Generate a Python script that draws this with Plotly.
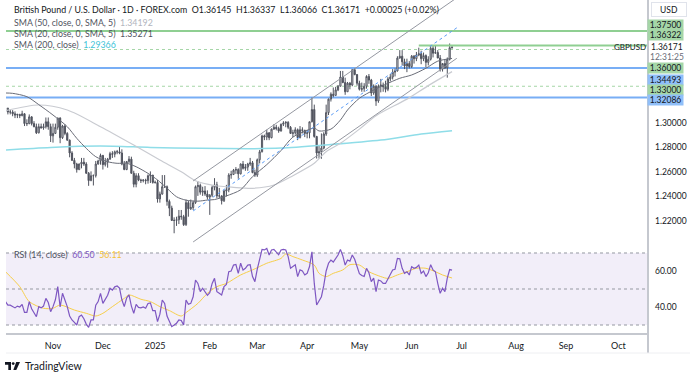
import plotly.graph_objects as go
import pandas as pd

# ----------------------------- data -----------------------------
candle_first_day = "2024-10-04"
candle_last_day = "2025-06-25"

opens = [
    # Oct 2024
    1.3120, 1.3120, 1.3090, 1.3090, 1.3075, 1.3065, 1.3070, 1.3060, 1.3075, 1.2995,
    1.2995, 1.3050, 1.2995, 1.2970, 1.2920, 1.2970, 1.2960, 1.2970, 1.3010, 1.2970,
    # Nov
    1.2895, 1.2915, 1.2965, 1.3040, 1.2880, 1.2975, 1.2915, 1.2860, 1.2755, 1.2695,
    1.2665, 1.2620, 1.2665, 1.2680, 1.2665, 1.2590, 1.2530, 1.2570, 1.2570, 1.2665, 1.2690,
    # Dec
    1.2735, 1.2660, 1.2680, 1.2705, 1.2750, 1.2745, 1.2765, 1.2765, 1.2755, 1.2665,
    1.2620, 1.2685, 1.2705, 1.2590, 1.2500, 1.2570, 1.2535, 1.2530, 1.2535, 1.2530, 1.2570, 1.2575,
    # Jan 2025
    1.2515, 1.2515, 1.2380, 1.2420, 1.2480, 1.2480, 1.2360, 1.2305, 1.2205, 1.2205,
    1.2210, 1.2240, 1.2235, 1.2170, 1.2350, 1.2300, 1.2310, 1.2350, 1.2480, 1.2490,
    1.2435, 1.2445, 1.2420,
    # Feb
    1.2395, 1.2410, 1.2475, 1.2495, 1.2405, 1.2405, 1.2365, 1.2445, 1.2455, 1.2575,
    1.2580, 1.2615, 1.2620, 1.2585, 1.2665, 1.2630, 1.2640, 1.2665, 1.2675, 1.2595,
    # Mar
    1.2575, 1.2700, 1.2765, 1.2895, 1.2885, 1.2920, 1.2880, 1.2950, 1.2965, 1.2955,
    1.2935, 1.2990, 1.3000, 1.3005, 1.2965, 1.2915, 1.2920, 1.2945, 1.2880, 1.2945, 1.2940,
    # Apr
    1.2915, 1.2920, 1.3010, 1.3110, 1.2890, 1.2755, 1.2765, 1.2795, 1.2910, 1.3085,
    1.3195, 1.3235, 1.3225, 1.3270, 1.3300, 1.3375, 1.3330, 1.3255, 1.3325, 1.3310, 1.3435, 1.3395,
    # May
    1.3325, 1.3275, 1.3280, 1.3300, 1.3380, 1.3350, 1.3245, 1.3300, 1.3180, 1.3300,
    1.3310, 1.3295, 1.3275, 1.3360, 1.3375, 1.3415, 1.3425, 1.3530, 1.3545, 1.3500, 1.3465, 1.3485,
    # Jun
    1.3460, 1.3545, 1.3525, 1.3555, 1.3565, 1.3525, 1.3550, 1.3495, 1.3520, 1.3610,
    1.3570, 1.3575, 1.3530, 1.3440, 1.3485, 1.3450, 1.3520, 1.36145,
]
highs = [
    1.3175, 1.3125, 1.3110, 1.3105, 1.3095, 1.3075, 1.3075, 1.3100, 1.3080, 1.3030,
    1.3070, 1.3055, 1.3015, 1.2995, 1.2995, 1.2995, 1.2995, 1.3045, 1.3045, 1.2995,
    1.2995, 1.2995, 1.3045, 1.3047, 1.2985, 1.2990, 1.2925, 1.2865, 1.2770, 1.2715,
    1.2675, 1.2670, 1.2715, 1.2715, 1.2680, 1.2600, 1.2605, 1.2580, 1.2690, 1.2700, 1.2750,
    1.2740, 1.2715, 1.2715, 1.2765, 1.2770, 1.2775, 1.2780, 1.2810, 1.2785, 1.2690,
    1.2690, 1.2730, 1.2725, 1.2610, 1.2590, 1.2590, 1.2545, 1.2540, 1.2545, 1.2580, 1.2605, 1.2575,
    1.2530, 1.2535, 1.2440, 1.2575, 1.2575, 1.2490, 1.2375, 1.2325, 1.2230, 1.2235,
    1.2290, 1.2290, 1.2250, 1.2375, 1.2365, 1.2375, 1.2365, 1.2490, 1.2525, 1.2505,
    1.2480, 1.2485, 1.2450,
    1.2420, 1.2490, 1.2550, 1.2520, 1.2470, 1.2410, 1.2455, 1.2495, 1.2590, 1.2610,
    1.2625, 1.2640, 1.2630, 1.2670, 1.2690, 1.2665, 1.2675, 1.2715, 1.2690, 1.2620,
    1.2710, 1.2780, 1.2905, 1.2905, 1.2945, 1.2925, 1.2955, 1.2990, 1.2985, 1.2970,
    1.2995, 1.3015, 1.3015, 1.3015, 1.2975, 1.2945, 1.2965, 1.2955, 1.2975, 1.2965, 1.2945,
    1.2945, 1.3010, 1.3207, 1.3150, 1.2895, 1.2815, 1.2915, 1.2925, 1.3150, 1.3200,
    1.3250, 1.3290, 1.3295, 1.3310, 1.3425, 1.3425, 1.3370, 1.3335, 1.3335, 1.3440, 1.3445, 1.3400,
    1.3345, 1.3330, 1.3325, 1.3390, 1.3400, 1.3360, 1.3315, 1.3310, 1.3315, 1.3360,
    1.3330, 1.3345, 1.3375, 1.3400, 1.3440, 1.3445, 1.3545, 1.3595, 1.3595, 1.3525, 1.3525, 1.3505,
    1.3555, 1.3555, 1.3580, 1.3615, 1.3590, 1.3575, 1.3560, 1.3545, 1.3630, 1.3630,
    1.3630, 1.3595, 1.3555, 1.3480, 1.3520, 1.3535, 1.3649, 1.36337,
]
lows = [
    1.3070, 1.3070, 1.3070, 1.3055, 1.3040, 1.3040, 1.3040, 1.3055, 1.2975, 1.2975,
    1.2990, 1.2980, 1.2965, 1.2910, 1.2915, 1.2955, 1.2945, 1.2955, 1.2945, 1.2845,
    1.2840, 1.2910, 1.2945, 1.2835, 1.2870, 1.2900, 1.2855, 1.2720, 1.2690, 1.2630,
    1.2595, 1.2615, 1.2630, 1.2650, 1.2585, 1.2487, 1.2525, 1.2490, 1.2555, 1.2660, 1.2660,
    1.2620, 1.2645, 1.2635, 1.2700, 1.2715, 1.2720, 1.2745, 1.2745, 1.2655, 1.2615,
    1.2615, 1.2670, 1.2585, 1.2475, 1.2475, 1.2525, 1.2510, 1.2515, 1.2500, 1.2505, 1.2510, 1.2505,
    1.2505, 1.2350, 1.2350, 1.2415, 1.2470, 1.2325, 1.2240, 1.2200, 1.2100, 1.2160,
    1.2175, 1.2210, 1.2160, 1.2160, 1.2235, 1.2290, 1.2290, 1.2340, 1.2405, 1.2415,
    1.2405, 1.2405, 1.2375,
    1.2250, 1.2395, 1.2450, 1.2385, 1.2385, 1.2335, 1.2355, 1.2400, 1.2435, 1.2545,
    1.2575, 1.2585, 1.2545, 1.2580, 1.2620, 1.2610, 1.2610, 1.2650, 1.2590, 1.2560,
    1.2560, 1.2670, 1.2760, 1.2860, 1.2860, 1.2860, 1.2875, 1.2945, 1.2940, 1.2920,
    1.2930, 1.2975, 1.2965, 1.2950, 1.2910, 1.2885, 1.2905, 1.2860, 1.2875, 1.2915, 1.2885,
    1.2875, 1.2875, 1.3005, 1.2880, 1.2710, 1.2710, 1.2708, 1.2785, 1.2895, 1.3065,
    1.3175, 1.3210, 1.3225, 1.3260, 1.3300, 1.3325, 1.3230, 1.3255, 1.3275, 1.3300, 1.3390, 1.3305,
    1.3265, 1.3255, 1.3255, 1.3280, 1.3320, 1.3220, 1.3230, 1.3140, 1.3165, 1.3250,
    1.3255, 1.3250, 1.3260, 1.3340, 1.3355, 1.3380, 1.3420, 1.3525, 1.3470, 1.3440, 1.3415, 1.3445,
    1.3450, 1.3485, 1.3505, 1.3545, 1.3480, 1.3505, 1.3455, 1.3470, 1.3510, 1.3535,
    1.3565, 1.3530, 1.3420, 1.3420, 1.3440, 1.3370, 1.3510, 1.36066,
]
closes = [
    1.3120, 1.3090, 1.3090, 1.3075, 1.3065, 1.3070, 1.3060, 1.3075, 1.2995, 1.2995,
    1.3050, 1.2995, 1.2970, 1.2920, 1.2970, 1.2960, 1.2970, 1.3010, 1.2970, 1.2895,
    1.2915, 1.2965, 1.3040, 1.2880, 1.2975, 1.2915, 1.2860, 1.2755, 1.2695, 1.2665,
    1.2620, 1.2665, 1.2680, 1.2665, 1.2590, 1.2530, 1.2570, 1.2570, 1.2665, 1.2690, 1.2735,
    1.2660, 1.2680, 1.2705, 1.2750, 1.2745, 1.2765, 1.2765, 1.2755, 1.2665, 1.2620,
    1.2685, 1.2705, 1.2590, 1.2500, 1.2570, 1.2535, 1.2530, 1.2535, 1.2530, 1.2570, 1.2575, 1.2515,
    1.2515, 1.2380, 1.2420, 1.2480, 1.2480, 1.2360, 1.2305, 1.2205, 1.2205, 1.2210,
    1.2240, 1.2235, 1.2170, 1.2350, 1.2300, 1.2310, 1.2350, 1.2480, 1.2490, 1.2435,
    1.2445, 1.2420, 1.2395,
    1.2410, 1.2475, 1.2495, 1.2405, 1.2405, 1.2365, 1.2445, 1.2455, 1.2575, 1.2580,
    1.2615, 1.2620, 1.2585, 1.2665, 1.2630, 1.2640, 1.2665, 1.2675, 1.2595, 1.2575,
    1.2700, 1.2765, 1.2895, 1.2885, 1.2920, 1.2880, 1.2950, 1.2965, 1.2955, 1.2935,
    1.2990, 1.3000, 1.3005, 1.2965, 1.2915, 1.2920, 1.2945, 1.2880, 1.2945, 1.2940, 1.2915,
    1.2920, 1.3010, 1.3110, 1.2890, 1.2755, 1.2765, 1.2795, 1.2910, 1.3085, 1.3195,
    1.3235, 1.3225, 1.3270, 1.3300, 1.3375, 1.3330, 1.3255, 1.3325, 1.3310, 1.3435, 1.3395, 1.3325,
    1.3275, 1.3280, 1.3300, 1.3380, 1.3350, 1.3245, 1.3300, 1.3180, 1.3300, 1.3310,
    1.3295, 1.3275, 1.3360, 1.3375, 1.3415, 1.3425, 1.3530, 1.3545, 1.3500, 1.3465, 1.3485, 1.3460,
    1.3545, 1.3525, 1.3555, 1.3565, 1.3525, 1.3550, 1.3495, 1.3520, 1.3610, 1.3570,
    1.3575, 1.3530, 1.3440, 1.3485, 1.3450, 1.3520, 1.36146, 1.36171,
]
rsi_values = [
    43.0, 41.0, 41.0, 40.0, 39.5, 40.5, 40.0, 41.5, 37.0, 37.0, 43.0, 39.0, 37.0, 34.6, 40.2,
    39.5, 40.5, 44.8, 42.5, 37.4,
    40.2, 44.0, 51.3, 40.0, 47.6, 44.0, 40.2, 35.0, 32.8, 31.5, 30.0, 34.6, 35.5, 33.5, 30.5,
    28.7, 32.8, 32.8, 41.0, 43.0, 47.6,
    42.0, 44.0, 46.5, 50.4, 49.4, 51.2, 51.7, 50.5, 44.0, 40.2, 45.0, 46.7, 40.5, 36.5, 41.5,
    39.8, 39.5, 40.0, 39.3, 42.0, 42.3, 38.0,
    38.0, 31.9, 36.0, 43.9, 42.0, 35.0, 31.9, 29.1, 30.0, 31.0, 32.8, 32.5, 30.0, 43.9, 41.5,
    42.0, 45.7, 55.0, 53.1, 48.5, 50.4, 48.5, 46.5,
    48.0, 53.1, 55.9, 48.5, 47.6, 46.7, 51.3, 52.5, 59.6, 60.0, 63.3, 63.6, 58.7, 64.3, 60.5,
    61.5, 63.3, 63.5, 56.9, 54.1,
    61.0, 66.1, 72.0, 71.7, 72.5, 68.9, 71.7, 72.0, 70.5, 69.0, 71.7, 72.0, 71.7, 68.0, 61.5,
    62.4, 63.5, 56.9, 60.6, 60.0, 57.8,
    58.7, 62.5, 70.7, 53.1, 41.1, 43.5, 45.7, 52.0, 60.0, 64.3, 66.1, 65.0, 67.0, 68.9, 72.0,
    68.5, 63.3, 66.1, 65.5, 68.9, 66.5, 62.4,
    58.5, 57.5, 57.0, 61.5, 59.0, 54.1, 56.0, 48.5, 55.0, 54.5, 53.1, 53.1, 55.9, 58.7, 60.6,
    61.0, 67.0, 66.8, 61.5, 58.7, 59.6, 57.8,
    62.4, 61.5, 62.0, 63.3, 58.7, 60.0, 56.9, 59.0, 63.5, 60.6, 59.6, 53.0, 47.6, 50.4, 48.5,
    56.0, 60.8, 60.50,
]
rsi_ma_dates = [
    "2024-10-04", "2024-10-14", "2024-10-18", "2024-10-28", "2024-11-01", "2024-11-06",
    "2024-11-14", "2024-11-21", "2024-11-27", "2024-12-02", "2024-12-06", "2024-12-13",
    "2024-12-17", "2024-12-24", "2024-12-30", "2025-01-03", "2025-01-09", "2025-01-16",
    "2025-01-20", "2025-01-27", "2025-01-31", "2025-02-06", "2025-02-12", "2025-02-20",
    "2025-02-27", "2025-03-07", "2025-03-17", "2025-03-19", "2025-03-24", "2025-03-28",
    "2025-04-04", "2025-04-08", "2025-04-11", "2025-04-16", "2025-04-22", "2025-04-25",
    "2025-05-01", "2025-05-07", "2025-05-14", "2025-05-19", "2025-05-23", "2025-05-29",
    "2025-06-04", "2025-06-10", "2025-06-16", "2025-06-19", "2025-06-25",
]
rsi_ma_values = [
    59.6, 51.3, 43.0, 39.3, 39.3, 41.1, 38.3, 36.5, 35.0, 36.5, 40.2, 44.8, 46.7, 44.3, 43.0,
    40.2, 38.0, 35.0, 36.9, 42.0, 47.6, 51.3, 53.1, 57.8, 60.6, 64.3, 67.0, 69.5, 68.0, 66.1,
    63.3, 58.7, 56.9, 58.7, 60.6, 63.5, 63.3, 59.6, 56.9, 55.9, 57.8, 59.6, 61.5, 61.5, 59.6,
    57.8, 56.11,
]
sma20_dates = [
    "2024-10-04", "2024-10-09", "2024-10-17", "2024-10-24", "2024-11-01", "2024-11-11",
    "2024-11-15", "2024-11-21", "2024-11-27", "2024-12-04", "2024-12-10", "2024-12-16",
    "2024-12-20", "2024-12-27", "2025-01-02", "2025-01-08", "2025-01-14", "2025-01-20",
    "2025-01-27", "2025-01-31", "2025-02-05", "2025-02-12", "2025-02-20", "2025-02-27",
    "2025-03-07", "2025-03-17", "2025-03-24", "2025-04-01", "2025-04-04", "2025-04-08",
    "2025-04-15", "2025-04-21", "2025-04-24", "2025-05-01", "2025-05-09", "2025-05-16",
    "2025-05-26", "2025-06-02", "2025-06-10", "2025-06-17", "2025-06-25",
]
sma20_values = [
    1.3245, 1.3242, 1.3215, 1.3150, 1.3065, 1.2970, 1.2875, 1.2793, 1.2725, 1.2684, 1.2671,
    1.2671, 1.2643, 1.2589, 1.2535, 1.2467, 1.2398, 1.2370, 1.2362, 1.2371, 1.2375, 1.2405,
    1.2455, 1.2562, 1.2660, 1.2775, 1.2885, 1.2940, 1.2959, 1.2935, 1.2950, 1.3024, 1.3106,
    1.3202, 1.3269, 1.3315, 1.3365, 1.3392, 1.3447, 1.3505, 1.35271,
]
sma50_dates = [
    "2024-10-04", "2024-10-24", "2024-11-11", "2024-11-29", "2024-12-19", "2025-01-03",
    "2025-01-16", "2025-01-24", "2025-02-05", "2025-02-17", "2025-02-27", "2025-03-12",
    "2025-03-24", "2025-04-04", "2025-04-11", "2025-04-21", "2025-05-01", "2025-05-12",
    "2025-05-29", "2025-06-11", "2025-06-25",
]
sma50_values = [
    1.3100, 1.3147, 1.3106, 1.2970, 1.2820, 1.2698, 1.2602, 1.2529, 1.2490, 1.2475, 1.2467,
    1.2494, 1.2570, 1.2671, 1.2766, 1.2834, 1.2950, 1.3060, 1.3195, 1.3305, 1.34192,
]
sma200_dates = [
    "2024-10-04", "2024-10-31", "2024-11-29", "2024-12-30", "2025-01-28", "2025-02-26",
    "2025-03-17", "2025-04-10", "2025-05-14", "2025-06-06", "2025-06-25",
]
sma200_values = [
    1.2780, 1.2801, 1.2812, 1.2801, 1.2793, 1.2790, 1.2795, 1.2820, 1.2861, 1.2910, 1.29366,
]
channel_dates = ["2025-01-23", "2025-06-27"]
channel_upper = [1.2527, 1.4022]
channel_mid = [1.2282, 1.3777]
channel_lower = [1.2029, 1.3528]

solid_levels = [1.37500, 1.34493, 1.32086]
solid_level_colors = ["#8fcf92", "#78aef5", "#78aef5"]
dotted_levels = [1.36000, 1.33000]
ray_level = 1.36322
ray_start = "2025-06-05"

axis_labels = ["1.37500", "1.36322", "1.36000", "1.34493", "1.33000", "1.32086"]
axis_label_colors = ["#a5d6a7", "#a5d6a7", "#a5d6a7", "#90bff9", "#a5d6a7", "#90bff9"]

month_tick_dates = ["2024-11-01", "2024-12-02", "2025-01-01", "2025-02-03", "2025-03-03",
                    "2025-04-01", "2025-05-01", "2025-06-02", "2025-07-01", "2025-08-01",
                    "2025-09-01", "2025-10-01"]
month_tick_labels = ["Nov", "Dec", "2025", "Feb", "Mar", "Apr", "May", "Jun", "Jul", "Aug",
                     "Sep", "Oct"]
price_ticks = [1.22, 1.24, 1.26, 1.28, 1.30]
rsi_ticks = [40, 60]
rsi_levels = [70, 50, 30]
rsi_band = [30, 70]

# ----------------------------- geometry helpers -----------------------------
W, H = 700, 379
ML, MR, MT, MB = 6, 52, 0, 46
PW, PH = W - ML - MR, H - MT - MB


def fx(px):
    return (px - ML) / PW


def fy(py):
    return 1 - (py - MT) / PH


FONT = "Lato, 'Open Sans', sans-serif"
TXT = "#131722"

candle_dates = pd.bdate_range(candle_first_day, candle_last_day).strftime("%Y-%m-%d").tolist()
axis_dates = pd.bdate_range("2024-10-03", "2025-10-31").strftime("%Y-%m-%d").tolist()
assert len(candle_dates) == len(closes) == len(opens) == len(highs) == len(lows) == len(rsi_values)

i_nov = axis_dates.index("2024-11-01")

fig = go.Figure()

# horizontal ray
fig.add_trace(go.Scatter(x=[ray_start, axis_dates[-1]], y=[ray_level, ray_level], mode="lines",
                         line=dict(color="#8fcf92", width=2), hoverinfo="skip", showlegend=False))

# moving averages
fig.add_trace(go.Scatter(x=sma200_dates, y=sma200_values, mode="lines",
                         line=dict(color="#8fdde8", width=1.5, shape="spline", smoothing=0.8),
                         hoverinfo="skip", showlegend=False))
fig.add_trace(go.Scatter(x=sma50_dates, y=sma50_values, mode="lines",
                         line=dict(color="#c9cbd1", width=1.2, shape="spline", smoothing=0.8),
                         hoverinfo="skip", showlegend=False))
fig.add_trace(go.Scatter(x=sma20_dates, y=sma20_values, mode="lines",
                         line=dict(color="#6a6d78", width=1, shape="spline", smoothing=0.8),
                         hoverinfo="skip", showlegend=False))

# channel
for vals, col, dash in [(channel_upper, "#9598a1", "solid"), (channel_lower, "#9598a1", "solid"),
                        (channel_mid, "#5b9cf6", "3px,3px")]:
    fig.add_trace(go.Scatter(x=channel_dates, y=vals, mode="lines",
                             line=dict(color=col, width=1, dash=dash),
                             hoverinfo="skip", showlegend=False))

# candles
fig.add_trace(go.Candlestick(
    x=candle_dates, open=opens, high=highs, low=lows, close=closes,
    increasing=dict(line=dict(color="#50535e", width=1), fillcolor="#ffffff"),
    decreasing=dict(line=dict(color="#50535e", width=1), fillcolor="#50535e"),
    whiskerwidth=0, showlegend=False, hoverinfo="skip"))

# RSI
fig.add_trace(go.Scatter(x=rsi_ma_dates, y=rsi_ma_values, yaxis="y2", mode="lines",
                         line=dict(color="#f7cf4a", width=1, shape="spline", smoothing=0.8),
                         hoverinfo="skip", showlegend=False))
fig.add_trace(go.Scatter(x=candle_dates, y=rsi_values, yaxis="y2", mode="lines",
                         line=dict(color="#7e57c2", width=1.2),
                         hoverinfo="skip", showlegend=False))

shapes = []
for lv, col in zip(solid_levels, solid_level_colors):
    shapes.append(dict(type="line", xref="paper", yref="y", x0=0, x1=1, y0=lv, y1=lv,
                       line=dict(color=col, width=2), layer="below"))
for lv in dotted_levels:
    shapes.append(dict(type="line", xref="paper", yref="y", x0=0, x1=1, y0=lv, y1=lv,
                       line=dict(color="#a5d6a7", width=1, dash="3px,3px"), layer="below"))
shapes.append(dict(type="rect", xref="paper", yref="y2", x0=0, x1=1, y0=rsi_band[0], y1=rsi_band[1],
                   fillcolor="rgba(126,87,194,0.10)", line=dict(width=0), layer="below"))
for lv in rsi_levels:
    shapes.append(dict(type="line", xref="paper", yref="y2", x0=0, x1=1, y0=lv, y1=lv,
                       line=dict(color="#9598a1", width=1, dash="3px,3px"), layer="below"))
# right scale border and bottom frame
shapes.append(dict(type="line", xref="paper", yref="paper", x0=1, x1=1, y0=fy(353), y1=1,
                   line=dict(color="#c5c8cf", width=2)))
shapes.append(dict(type="line", xref="paper", yref="paper", x0=0, x1=fx(690), y0=fy(353), y1=fy(353),
                   line=dict(color="#eeeff2", width=1)))


# TradingView logo mark
def path(points):
    return "M " + " L ".join(f"{fx(a):.5f},{fy(b):.5f}" for a, b in points) + " Z"


shapes.append(dict(type="path", xref="paper", yref="paper",
                   path=path([(5, 362), (11, 362), (11, 370), (8.3, 370), (8.3, 364.8), (5, 364.8)]),
                   fillcolor=TXT, line=dict(width=0)))
shapes.append(dict(type="circle", xref="paper", yref="paper", x0=fx(11.8), x1=fx(14.6),
                   y0=fy(365), y1=fy(362.2), fillcolor=TXT, line=dict(width=0)))
shapes.append(dict(type="path", xref="paper", yref="paper",
                   path=path([(16.2, 362), (20, 362), (16.3, 370), (13.3, 370)]),
                   fillcolor=TXT, line=dict(width=0)))

ann = []


def text(x, y, t, size=9, color=TXT, anchor="left", **kw):
    ann.append(dict(x=fx(x), y=fy(y), xref="paper", yref="paper", text=t, showarrow=False,
                    xanchor=anchor, yanchor="middle", font=dict(family=FONT, size=size, color=color),
                    **kw))


chg = closes[-1] - closes[-2]
pct = chg / closes[-2] * 100
text(12, 10, "British Pound / U.S. Dollar · 1D · FOREX.com  "
     f"O{opens[-1]:.5f}  H{highs[-1]:.5f}  L{lows[-1]:.5f}  "
     f"C{closes[-1]:.5f}  {chg:+.5f} ({pct:+.2f}%)", size=8.8)
text(12, 22.5, f"SMA (50, close, 0, SMA, 5)  <span style='color:#b2b5be'>{sma50_values[-1]:.5f}</span>",
     color="#50535e", size=8.8)
text(12, 33.5, f"SMA (20, close, 0, SMA, 5)  <span style='color:#50535e'>{sma20_values[-1]:.5f}</span>",
     color="#50535e", size=8.8)
text(12, 44, f"SMA (200, close)  <span style='color:#40c4d8'>{sma200_values[-1]:.5f}</span>",
     color="#50535e", size=8.8)
text(12, 255, f"RSI (14, close)  <span style='color:#7e57c2'>{rsi_values[-1]:.2f}</span>  "
     f"<span style='color:#f2c12e'>{rsi_ma_values[-1]:.2f}</span>", color="#50535e", size=8.8)

# right-side price labels
label_y = [25, 35, 68, 80, 90, 100]
for lab, col, yy in zip(axis_labels, axis_label_colors, label_y):
    text(666, yy, lab, size=8.5, anchor="center", bgcolor=col, width=35, height=10, borderpad=0)
text(667, 47, f"{closes[-1]:.5f}", size=8.5, anchor="center")
text(667, 57, "12:31:25", size=8.5, color="#6a6d78", anchor="center")
text(630, 47, "GBPUSD", size=8, anchor="center")
text(669, 10, "USD", size=8.5, anchor="center", bgcolor="#ffffff", bordercolor="#e0e3eb",
     borderwidth=1, width=34, height=13, borderpad=0)
text(23, 366, "TradingView", size=10.5, color=TXT)

fig.update_layout(
    width=W, height=H, margin=dict(l=ML, r=MR, t=MT, b=MB),
    paper_bgcolor="white", plot_bgcolor="white", showlegend=False,
    font=dict(family=FONT, size=9, color=TXT),
    xaxis=dict(type="category", categoryorder="array", categoryarray=axis_dates,
               range=[i_nov - 19.79, i_nov + 250.5], anchor="y2", showgrid=False,
               showline=True, linecolor="#c5c8cf", linewidth=2, ticks="",
               tickmode="array", tickvals=month_tick_dates, ticktext=month_tick_labels,
               tickfont=dict(family=FONT, size=9, color=TXT), ticklabelstandoff=3,
               rangeslider=dict(visible=False), zeroline=False, fixedrange=True),
    yaxis=dict(domain=[fy(246), 1], range=[1.1996, 1.4004], side="right", anchor="x",
               showgrid=False, zeroline=False, showline=False, ticks="",
               tickmode="array", tickvals=price_ticks, ticktext=[f"{v:.5f}" for v in price_ticks],
               tickfont=dict(family=FONT, size=8.5, color=TXT), ticklabelstandoff=6),
    yaxis2=dict(domain=[0, fy(247)], range=[25.56, 73.33], side="right", anchor="x",
                showgrid=False, zeroline=False, showline=False, ticks="",
                tickmode="array", tickvals=rsi_ticks, ticktext=[f"{v:.2f}" for v in rsi_ticks],
                tickfont=dict(family=FONT, size=8.5, color=TXT), ticklabelstandoff=6),
    shapes=shapes, annotations=ann,
)

fig.write_html("out.html", config={"displayModeBar": False},
               post_script="document.body.style.margin='0px';")
